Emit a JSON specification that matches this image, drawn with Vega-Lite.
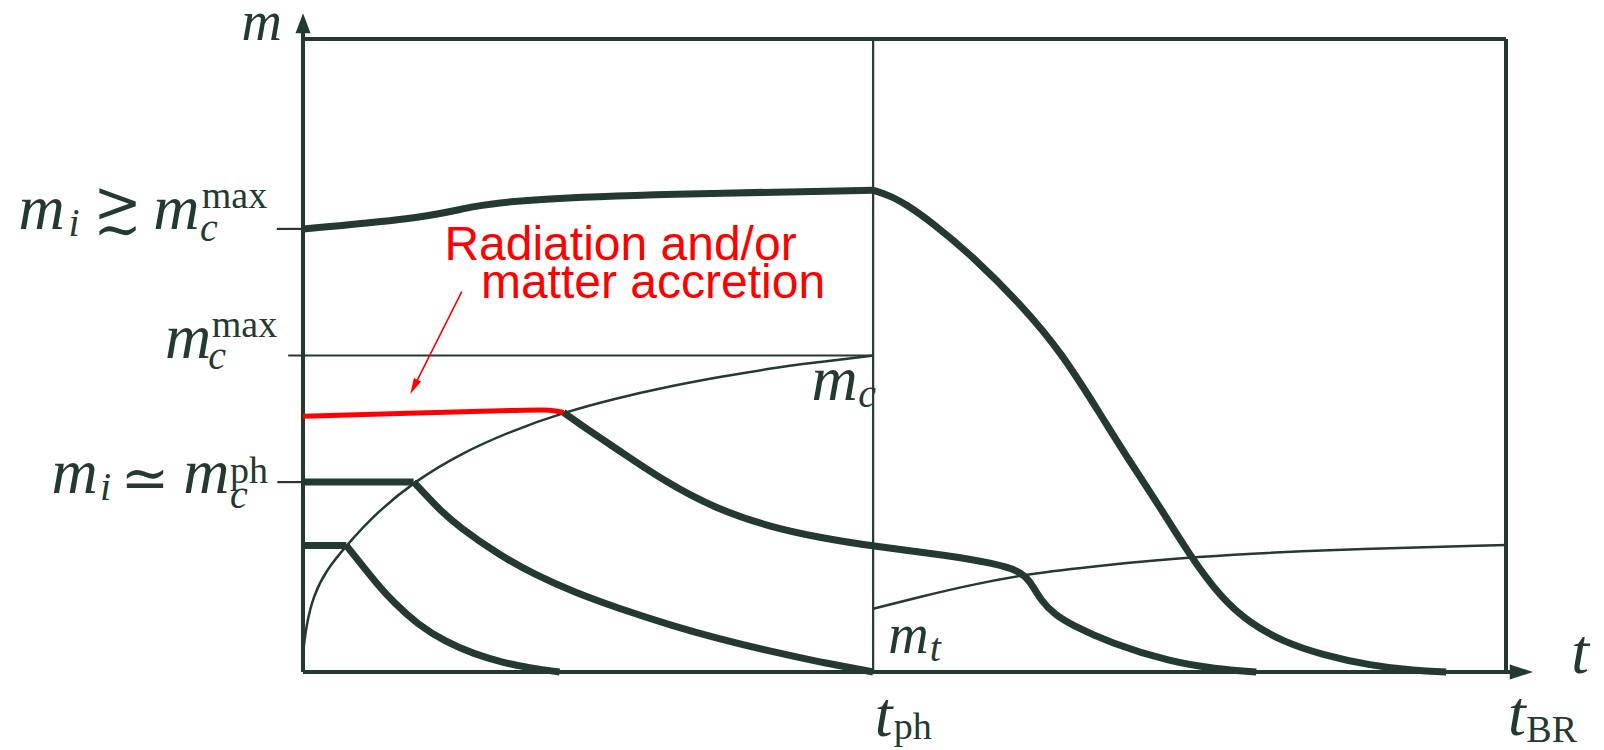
{
  "$schema": "https://vega.github.io/schema/vega-lite/v6.json",
  "width": 1203,
  "height": 633,
  "autosize": "none",
  "padding": {"left": 303, "top": 39, "right": 98, "bottom": 78},
  "background": "white",
  "config": {"view": {"stroke": null}},
  "datasets": {
    "curves": [
      {"series": "mc", "t": 0, "m": 0.06},
      {"series": "mc", "t": 0.006, "m": 0.15},
      {"series": "mc", "t": 0.018, "m": 0.24},
      {"series": "mc", "t": 0.04, "m": 0.32},
      {"series": "mc", "t": 0.076, "m": 0.4},
      {"series": "mc", "t": 0.13, "m": 0.505},
      {"series": "mc", "t": 0.194, "m": 0.6},
      {"series": "mc", "t": 0.276, "m": 0.69},
      {"series": "mc", "t": 0.366, "m": 0.762},
      {"series": "mc", "t": 0.457, "m": 0.82},
      {"series": "mc", "t": 0.55, "m": 0.865},
      {"series": "mc", "t": 0.636, "m": 0.9},
      {"series": "mc", "t": 0.73, "m": 0.932},
      {"series": "mc", "t": 0.815, "m": 0.958},
      {"series": "mc", "t": 0.9, "m": 0.978},
      {"series": "mc", "t": 1.0, "m": 1.0},
      {"series": "mt", "t": 1.0, "m": 0.2},
      {"series": "mt", "t": 1.083, "m": 0.238},
      {"series": "mt", "t": 1.171, "m": 0.275},
      {"series": "mt", "t": 1.267, "m": 0.309},
      {"series": "mt", "t": 1.4, "m": 0.337},
      {"series": "mt", "t": 1.557, "m": 0.364},
      {"series": "mt", "t": 1.8, "m": 0.387},
      {"series": "mt", "t": 2.11, "m": 0.401},
      {"series": "red", "t": 0, "m": 0.808},
      {"series": "red", "t": 0.2, "m": 0.818},
      {"series": "red", "t": 0.4, "m": 0.828},
      {"series": "red", "t": 0.435, "m": 0.829},
      {"series": "red", "t": 0.457, "m": 0.82},
      {"series": "big1", "t": 0, "m": 1.4},
      {"series": "big1", "t": 0.222, "m": 1.436},
      {"series": "big1", "t": 0.296, "m": 1.473},
      {"series": "big1", "t": 0.397, "m": 1.494},
      {"series": "big1", "t": 0.632, "m": 1.51},
      {"series": "big1", "t": 1.0, "m": 1.522},
      {"series": "big2", "t": 1.0, "m": 1.522},
      {"series": "big2", "t": 1.03, "m": 1.505},
      {"series": "big2", "t": 1.06, "m": 1.475},
      {"series": "big2", "t": 1.1, "m": 1.425},
      {"series": "big2", "t": 1.174, "m": 1.315},
      {"series": "big2", "t": 1.264, "m": 1.152},
      {"series": "big2", "t": 1.33, "m": 1.01},
      {"series": "big2", "t": 1.4, "m": 0.81},
      {"series": "big2", "t": 1.45, "m": 0.665},
      {"series": "big2", "t": 1.5, "m": 0.53},
      {"series": "big2", "t": 1.557, "m": 0.364},
      {"series": "big2", "t": 1.61, "m": 0.235},
      {"series": "big2", "t": 1.66, "m": 0.155},
      {"series": "big2", "t": 1.72, "m": 0.095},
      {"series": "big2", "t": 1.786, "m": 0.055},
      {"series": "big2", "t": 1.873, "m": 0.02},
      {"series": "big2", "t": 1.95, "m": 0.004},
      {"series": "big2", "t": 2.005, "m": 0},
      {"series": "middle", "t": 0.457, "m": 0.82},
      {"series": "middle", "t": 0.5, "m": 0.765},
      {"series": "middle", "t": 0.55, "m": 0.705},
      {"series": "middle", "t": 0.636, "m": 0.6},
      {"series": "middle", "t": 0.725, "m": 0.515},
      {"series": "middle", "t": 0.82, "m": 0.458},
      {"series": "middle", "t": 0.905, "m": 0.425},
      {"series": "middle", "t": 1.0, "m": 0.397},
      {"series": "middle", "t": 1.127, "m": 0.37},
      {"series": "middle", "t": 1.215, "m": 0.342},
      {"series": "middle", "t": 1.255, "m": 0.32},
      {"series": "middle", "t": 1.275, "m": 0.29},
      {"series": "middle", "t": 1.294, "m": 0.225},
      {"series": "middle", "t": 1.32, "m": 0.18},
      {"series": "middle", "t": 1.347, "m": 0.15},
      {"series": "middle", "t": 1.417, "m": 0.091},
      {"series": "middle", "t": 1.522, "m": 0.032},
      {"series": "middle", "t": 1.6, "m": 0.01},
      {"series": "middle", "t": 1.672, "m": 0},
      {"series": "phflat", "t": 0, "m": 0.6},
      {"series": "phflat", "t": 0.194, "m": 0.6},
      {"series": "phdecay", "t": 0.194, "m": 0.6},
      {"series": "phdecay", "t": 0.21, "m": 0.57},
      {"series": "phdecay", "t": 0.24, "m": 0.512},
      {"series": "phdecay", "t": 0.274, "m": 0.458},
      {"series": "phdecay", "t": 0.342, "m": 0.372},
      {"series": "phdecay", "t": 0.409, "m": 0.305},
      {"series": "phdecay", "t": 0.476, "m": 0.252},
      {"series": "phdecay", "t": 0.55, "m": 0.203},
      {"series": "phdecay", "t": 0.65, "m": 0.145},
      {"series": "phdecay", "t": 0.725, "m": 0.107},
      {"series": "phdecay", "t": 0.82, "m": 0.065},
      {"series": "phdecay", "t": 0.905, "m": 0.032},
      {"series": "phdecay", "t": 1.0, "m": 0},
      {"series": "lowflat", "t": 0, "m": 0.4},
      {"series": "lowflat", "t": 0.076, "m": 0.4},
      {"series": "lowdecay", "t": 0.076, "m": 0.4},
      {"series": "lowdecay", "t": 0.1, "m": 0.345},
      {"series": "lowdecay", "t": 0.13, "m": 0.278},
      {"series": "lowdecay", "t": 0.16, "m": 0.218},
      {"series": "lowdecay", "t": 0.2, "m": 0.152},
      {"series": "lowdecay", "t": 0.25, "m": 0.095},
      {"series": "lowdecay", "t": 0.3, "m": 0.057},
      {"series": "lowdecay", "t": 0.35, "m": 0.03},
      {"series": "lowdecay", "t": 0.4, "m": 0.012},
      {"series": "lowdecay", "t": 0.45, "m": 0}
    ],
    "frame": [
      {"t": 0, "t2": 0, "m": 0, "m2": 2.03},
      {"t": 0, "t2": 2.13, "m": 0, "m2": 0},
      {"t": 0, "t2": 2.11, "m": 2, "m2": 2},
      {"t": 2.11, "t2": 2.11, "m": 0, "m2": 2}
    ],
    "thin": [
      {"t": 1, "t2": 1, "m": 0, "m2": 2},
      {"t": -0.026, "t2": 1, "m": 1, "m2": 1},
      {"t": -0.046, "t2": 0, "m": 1.4, "m2": 1.4},
      {"t": -0.045, "t2": 0, "m": 0.6, "m2": 0.6}
    ],
    "redarrow": [
      {"t": 0.2785, "t2": 0.1945, "m": 1.2016, "m2": 0.9008}
    ],
    "italic": [
      {"label": "m", "t": -0.499, "m": 1.399},
      {"label": "m", "t": -0.2625, "m": 1.399},
      {"label": "m", "t": -0.242, "m": 0.992},
      {"label": "m", "t": -0.441, "m": 0.5656},
      {"label": "m", "t": -0.2099, "m": 0.5656},
      {"label": "m", "t": 0.892, "m": 0.859},
      {"label": "t", "t": 2.2246, "m": -0.0032},
      {"label": "t", "t": 1.003, "m": -0.2022},
      {"label": "t", "t": 2.1135, "m": -0.199}
    ],
    "italicsmall": [
      {"label": "m", "t": -0.108, "m": 1.997},
      {"label": "m", "t": 1.0263, "m": 0.06}
    ],
    "italicsub": [
      {"label": "i", "t": -0.4115, "m": 1.3776},
      {"label": "c", "t": -0.1806, "m": 1.3618},
      {"label": "c", "t": -0.166, "m": 0.9573},
      {"label": "i", "t": -0.356, "m": 0.5434},
      {"label": "c", "t": -0.128, "m": 0.518},
      {"label": "c", "t": 0.9737, "m": 0.8373},
      {"label": "t", "t": 1.0994, "m": 0.0348}
    ],
    "upright": [
      {"label": "max", "t": -0.1776, "m": 1.465},
      {"label": "max", "t": -0.16, "m": 1.0594},
      {"label": "ph", "t": -0.128, "m": 0.5972},
      {"label": "ph", "t": 1.0363, "m": -0.2117},
      {"label": "BR", "t": 2.1457, "m": -0.2202}
    ],
    "symbols": [
      {"label": ">", "t": -0.3253, "m": 1.474},
      {"label": "∼", "t": -0.3253, "m": 1.39},
      {"label": "≃", "t": -0.277, "m": 0.605}
    ],
    "redtext": [
      {"label": "Radiation and/or", "t": 0.248, "m": 1.3017},
      {"label": "matter accretion", "t": 0.3121, "m": 1.1807}
    ],
    "uparrow": [{"t": 0, "m": 2.05}],
    "rightarrow": [{"t": 2.137, "m": 0}],
    "redhead": [{"t": 0.1945, "m": 0.9008}]
  },
  "encoding": {
    "x": {"field": "t", "type": "quantitative", "scale": {"domain": [0, 2.11], "nice": false, "zero": false}, "axis": null},
    "y": {"field": "m", "type": "quantitative", "scale": {"domain": [0, 2], "nice": false, "zero": false}, "axis": null}
  },
  "layer": [
    {
      "data": {"name": "curves"},
      "transform": [{"filter": {"field": "series", "oneOf": ["mc", "mt"]}}],
      "mark": {"type": "line", "color": "#243a31", "strokeWidth": 2.5, "interpolate": "basis"},
      "encoding": {"detail": {"field": "series"}, "order": {"field": "t", "type": "quantitative"}}
    },
    {
      "data": {"name": "thin"},
      "mark": {"type": "rule", "color": "#243a31", "strokeWidth": 2.2},
      "encoding": {"x2": {"field": "t2"}, "y2": {"field": "m2"}}
    },
    {
      "data": {"name": "frame"},
      "mark": {"type": "rule", "color": "#243a31", "strokeWidth": 4},
      "encoding": {"x2": {"field": "t2"}, "y2": {"field": "m2"}}
    },
    {
      "data": {"name": "curves"},
      "transform": [{"filter": {"field": "series", "oneOf": ["big1", "big2", "middle", "phflat", "phdecay", "lowflat", "lowdecay"]}}],
      "mark": {"type": "line", "color": "#243a31", "strokeWidth": 7, "interpolate": "basis"},
      "encoding": {"detail": {"field": "series"}, "order": {"field": "t", "type": "quantitative"}}
    },
    {
      "data": {"name": "curves"},
      "transform": [{"filter": {"field": "series", "equal": "red"}}],
      "mark": {"type": "line", "color": "#ff0000", "strokeWidth": 5, "interpolate": "basis"},
      "encoding": {"order": {"field": "t", "type": "quantitative"}}
    },
    {
      "data": {"name": "redarrow"},
      "mark": {"type": "rule", "color": "#ff0000", "strokeWidth": 1.6},
      "encoding": {"x2": {"field": "t2"}, "y2": {"field": "m2"}}
    },
    {
      "data": {"name": "redhead"},
      "mark": {"type": "point", "shape": "M0,-1L0.5,1L-0.5,1Z", "size": 256, "filled": true, "color": "#ff0000", "opacity": 1, "angle": 206.7},
      "encoding": {}
    },
    {
      "data": {"name": "uparrow"},
      "mark": {"type": "point", "shape": "M0,-1L0.75,1L-0.75,1Z", "size": 400, "filled": true, "color": "#243a31", "opacity": 1},
      "encoding": {}
    },
    {
      "data": {"name": "rightarrow"},
      "mark": {"type": "point", "shape": "M1,0L-1,0.65L-1,-0.65Z", "size": 543, "filled": true, "color": "#243a31", "opacity": 1},
      "encoding": {}
    },
    {
      "data": {"name": "italic"},
      "mark": {"type": "text", "font": "Liberation Serif", "fontStyle": "italic", "fontSize": 64, "align": "left", "baseline": "alphabetic", "color": "#243a31"},
      "encoding": {"text": {"field": "label"}}
    },
    {
      "data": {"name": "italicsmall"},
      "mark": {"type": "text", "font": "Liberation Serif", "fontStyle": "italic", "fontSize": 56, "align": "left", "baseline": "alphabetic", "color": "#243a31"},
      "encoding": {"text": {"field": "label"}}
    },
    {
      "data": {"name": "italicsub"},
      "mark": {"type": "text", "font": "Liberation Serif", "fontStyle": "italic", "fontSize": 40, "align": "left", "baseline": "alphabetic", "color": "#243a31"},
      "encoding": {"text": {"field": "label"}}
    },
    {
      "data": {"name": "upright"},
      "mark": {"type": "text", "font": "Liberation Serif", "fontSize": 38, "align": "left", "baseline": "alphabetic", "color": "#243a31"},
      "encoding": {"text": {"field": "label"}}
    },
    {
      "data": {"name": "symbols"},
      "mark": {"type": "text", "font": "DejaVu Serif", "fontSize": 58, "align": "center", "baseline": "middle", "color": "#243a31"},
      "encoding": {"text": {"field": "label"}}
    },
    {
      "data": {"name": "redtext"},
      "mark": {"type": "text", "font": "Liberation Sans", "fontSize": 48, "align": "left", "baseline": "alphabetic", "color": "#ff0000"},
      "encoding": {"text": {"field": "label"}}
    }
  ]
}
